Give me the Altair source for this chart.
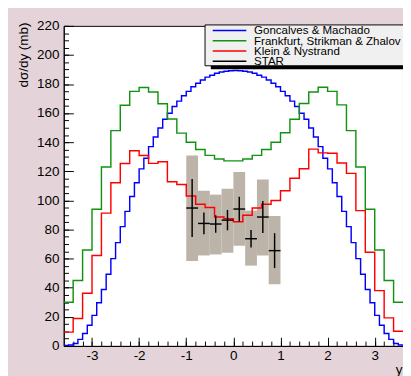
import altair as alt
import pandas as pd

X_MIN, X_MAX = -3.6, 3.6

# Goncalves & Machado: 0.1-wide bins from -3.6 to 3.6
gm_vals = [0.3, 0.7, 1.7, 4.5, 8.5, 14.2, 21.0, 29.7, 38.8, 49.3, 60.0, 71.0,
           82.0, 92.5, 102.7, 112.2, 121.7, 129.0, 137.0, 143.6, 149.8, 155.8, 160.0, 164.6,
           168.3, 172.0, 175.0, 178.2, 180.6, 182.8, 184.8, 186.1, 187.5, 188.3, 188.8, 189.2,
           189.4, 189.2, 188.8, 188.3, 187.5, 186.1, 184.8, 182.8, 180.6, 178.2, 175.0, 172.0,
           168.3, 164.6, 160.0, 155.8, 149.8, 143.6, 137.0, 129.0, 121.7, 112.2, 102.7, 92.5,
           82.0, 71.0, 60.0, 49.3, 38.8, 29.7, 21.0, 14.2, 8.5, 4.5, 1.7, 0.7]
# Frankfurt, Strikman & Zhalov: 0.2-wide bins
fsz_vals = [30.0, 45.0, 66.0, 94.0, 123.0, 148.0, 165.5, 175.0, 177.7, 174.5, 166.5, 156.0,
            146.3, 140.0, 135.0, 131.0, 128.5, 127.2, 127.2, 128.5, 131.0, 135.0, 140.0, 146.5,
            155.8, 166.7, 174.5, 177.8, 175.0, 165.7, 148.0, 123.0, 94.0, 66.0, 45.0, 30.0]
# Klein & Nystrand: 0.2-wide bins
kn_vals = [9.5, 18.8, 36.2, 62.2, 91.3, 112.2, 125.4, 134.2, 130.9, 125.5, 126.6, 112.9,
           111.0, 103.0, 97.4, 95.2, 88.6, 87.5, 85.3, 89.8, 94.8, 97.4, 100.0, 106.7,
           115.2, 121.8, 135.3, 132.7, 132.5, 125.7, 118.6, 93.0, 64.4, 38.0, 19.3, 10.1]

# STAR data
star_y = [-0.875, -0.625, -0.375, -0.125, 0.125, 0.375, 0.625, 0.875]
star_val = [94.8, 84.2, 83.8, 86.5, 94.1, 73.7, 88.6, 65.5]
star_err = [20.0, 7.5, 6.0, 7.0, 8.5, 6.0, 11.0, 12.0]
star_sys_lo = [58.3, 62.2, 62.9, 64.0, 68.8, 55.2, 62.2, 42.4]
star_sys_hi = [130.9, 106.7, 104.0, 108.0, 119.5, 93.0, 114.4, 89.3]
star_halfwidth = 0.125

series_names = ["Goncalves & Machado", "Frankfurt, Strikman & Zhalov",
                "Klein & Nystrand", "STAR"]
series_colors = ["#0000ff", "#119311", "#ff0000", "#000000"]

x_major = [-3, -2, -1, 0, 1, 2, 3]
x_minor = [round(-3.4 + 0.2 * i, 1) for i in range(35)]
y_major = list(range(0, 221, 20))
y_minor = list(range(0, 221, 5))


def step_frame(vals, width, name):
    edges = [round(X_MIN + width * i, 2) for i in range(len(vals))] + [X_MAX]
    v = list(vals) + [vals[-1]]
    return pd.DataFrame({"x": edges, "v": v, "series": name})


lines_df = pd.concat([
    step_frame(gm_vals, 0.1, series_names[0]),
    step_frame(fsz_vals, 0.2, series_names[1]),
    step_frame(kn_vals, 0.2, series_names[2]),
], ignore_index=True)

star_df = pd.DataFrame({
    "yc": star_y,
    "val": star_val,
    "lo": [v - e for v, e in zip(star_val, star_err)],
    "hi": [v + e for v, e in zip(star_val, star_err)],
    "xl": [c - star_halfwidth for c in star_y],
    "xr": [c + star_halfwidth for c in star_y],
    "slo": star_sys_lo,
    "shi": star_sys_hi,
    "series": "STAR",
})

FONT = "Liberation Sans"
xs = alt.Scale(domain=[X_MIN, X_MAX], nice=False, zero=False)
ys = alt.Scale(domain=[0, 220], nice=False, zero=False)

color = alt.Color("series:N", scale=alt.Scale(domain=series_names, range=series_colors),
                  legend=None)

ax_x_main = alt.Axis(orient="bottom", values=x_major, labelExpr="'' + datum.value",
                     ticks=False, tickSize=0, domain=True, domainColor="black", domainWidth=1,
                     labelFontSize=14, labelFont=FONT, labelColor="black", labelPadding=3,
                     labelFlush=False, labelOverlap=False, grid=False,
                     title="y", titleFont=FONT, titleFontSize=14, titleFontWeight="normal",
                     titleColor="black", titleAlign="right", titleX=352, titleY=29,
                     titleBaseline="alphabetic")
ax_x_major = alt.Axis(orient="bottom", values=x_major, labels=False, domain=False,
                      tickSize=9, offset=-9, tickColor="black", tickWidth=1, title=None, grid=False)
ax_x_minor = alt.Axis(orient="bottom", values=x_minor, labels=False, domain=False,
                      tickSize=5, offset=-5, tickColor="black", tickWidth=1, title=None, grid=False)

ax_y_main = alt.Axis(orient="left", values=y_major, ticks=False, tickSize=0, domain=True,
                     domainColor="black", domainWidth=1, labelFontSize=14, labelFont=FONT,
                     labelColor="black", labelPadding=5, labelFlush=False, labelOverlap=False,
                     grid=False, title="dσ/dy (mb)", titleFont=FONT, titleFontSize=14,
                     titleFontWeight="normal", titleColor="black", titleAngle=270,
                     titleAlign="right", titleBaseline="middle", titleX=-42, titleY=-4)
ax_y_major = alt.Axis(orient="left", values=y_major, labels=False, domain=False,
                      tickSize=10, offset=-10, tickColor="black", tickWidth=1, title=None, grid=False)
ax_y_minor = alt.Axis(orient="left", values=y_minor, labels=False, domain=False,
                      tickSize=5, offset=-5, tickColor="black", tickWidth=1, title=None, grid=False)

boxes = alt.Chart(star_df).mark_rect(fill="#bcb4a9").encode(
    x=alt.X("xl:Q", scale=xs, axis=ax_x_major),
    x2="xr:Q",
    y=alt.Y("slo:Q", scale=ys, axis=ax_y_major),
    y2="shi:Q",
)

lines = alt.Chart(lines_df).mark_line(interpolate="step-after", strokeWidth=1.5, clip=True).encode(
    x=alt.X("x:Q", scale=xs, axis=ax_x_main),
    y=alt.Y("v:Q", scale=ys, axis=ax_y_main),
    color=color,
)

vbars = alt.Chart(star_df).mark_rule(strokeWidth=1.5).encode(
    x=alt.X("yc:Q", scale=xs, axis=ax_x_minor),
    y=alt.Y("lo:Q", scale=ys, axis=ax_y_minor),
    y2="hi:Q",
    color=color,
)

hbars = alt.Chart(star_df).mark_rule(strokeWidth=1.5).encode(
    x=alt.X("xl:Q", scale=xs, axis=None),
    x2="xr:Q",
    y=alt.Y("val:Q", scale=ys, axis=None),
    color=color,
)

# ---- legend box (ROOT TLegend style: light fill, black border, drop shadow) ----
one = pd.DataFrame({"a": [0]})
legend_layers = [
    alt.Chart(one).mark_rect(fill="black").encode(
        x=alt.value(153), x2=alt.value(370), y=alt.value(4), y2=alt.value(45)),
    alt.Chart(one).mark_rect(fill="#f0f0f0", stroke="black", strokeWidth=1).encode(
        x=alt.value(147), x2=alt.value(365), y=alt.value(-1), y2=alt.value(41.5)),
]
row_y = [4.7, 15.4, 26.1, 36.8]
for name, col, ry in zip(series_names, series_colors, row_y):
    legend_layers.append(
        alt.Chart(one).mark_rule(color=col, strokeWidth=1.5).encode(
            x=alt.value(155), x2=alt.value(190), y=alt.value(ry)))
    legend_layers.append(
        alt.Chart(pd.DataFrame({"label": [name]})).mark_text(
            align="left", baseline="middle", font=FONT, fontSize=12, color="black"
        ).encode(x=alt.value(198), y=alt.value(ry), text="label:N"))

page_css = ("html, body { overflow: hidden; margin: 0; padding: 0; } "
            "body { background: #e4d4d9; } "
            "#vis svg { display: block; flex-shrink: 0; max-width: none; }")

chart = alt.layer(boxes, lines, vbars, hbars, *legend_layers).resolve_axis(
    x="independent", y="independent"
).properties(
    width=353, height=333,
    autosize=alt.AutoSizeParams(type="none"),
    padding={"left": 58, "top": 11, "right": 0, "bottom": 32},
    usermeta={"embedOptions": {"defaultStyle": page_css}},
).configure(
    background="#e4d4d9", font=FONT
).configure_view(
    fill="white", stroke="black", strokeWidth=1
)

chart.save("out.html", embed_options={"renderer": "svg", "actions": False})
